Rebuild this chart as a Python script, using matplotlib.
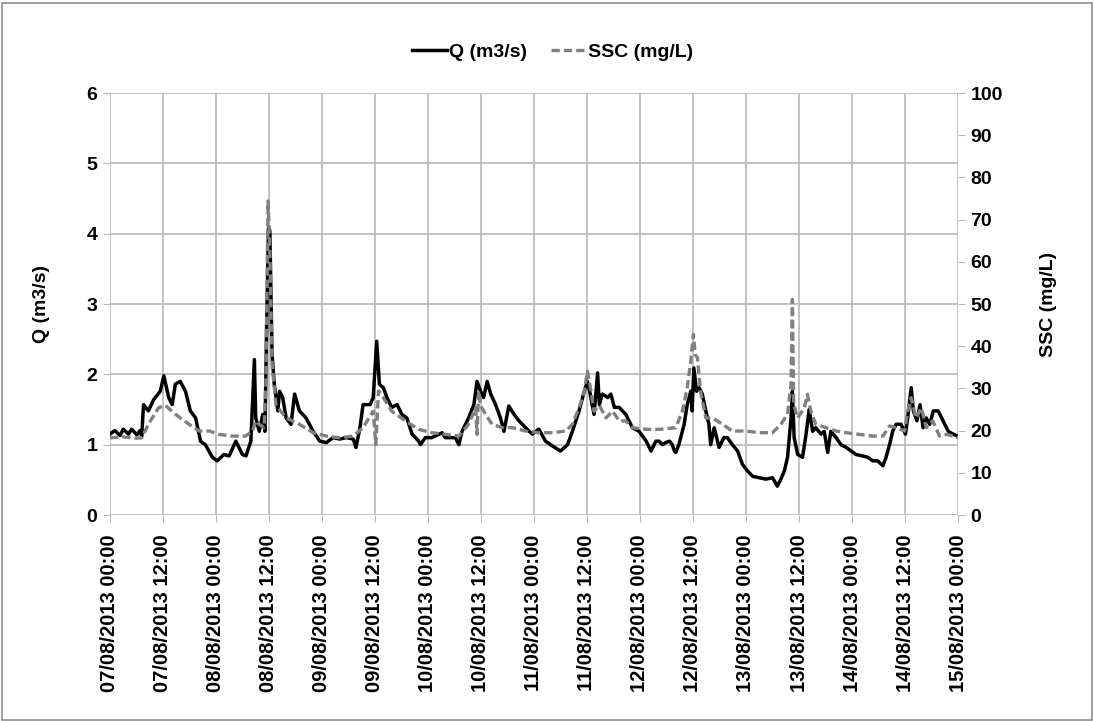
import matplotlib
matplotlib.use("Agg")
import matplotlib.pyplot as plt
import matplotlib.dates as mdates
import matplotlib.patches as patches
import pandas as pd

plt.rcParams['font.family'] = ['Liberation Sans', 'DejaVu Sans']
plt.rcParams['font.weight'] = 'bold'

START = pd.Timestamp("2013-08-07 00:00")
END = pd.Timestamp("2013-08-15 00:00")

# hours since 07/08/2013 00:00 and discharge (m3/s)
q_hours = [0.0, 1.1, 2.3, 3.0, 4.2, 4.9, 6.1, 6.8, 7.2, 7.6, 8.7, 9.9, 11.4, 12.2,
           13.3, 14.1, 14.8, 15.9, 17.1, 18.2, 19.4, 20.5, 21.6, 23.2, 24.3, 25.8,
           27.0, 28.5, 30.0, 30.8, 31.9, 32.7, 33.0, 33.8, 34.6, 35.1, 35.5, 35.9,
           36.2, 36.7, 37.2, 38.0, 38.4, 39.1, 39.9, 41.0, 41.8, 42.9, 44.4, 46.0,
           47.5, 49.0, 50.5, 52.0, 53.5, 55.1, 55.7, 56.6, 57.3, 58.9, 59.6, 60.4,
           61.0, 61.9, 62.7, 63.8, 65.0, 66.1, 67.2, 68.4, 69.9, 70.3, 71.4, 72.9,
           75.2, 75.9, 78.2, 79.0, 79.7, 81.2, 82.4, 83.1, 83.9, 84.6, 85.4, 86.2,
           87.3, 88.4, 89.2, 90.3, 91.5, 92.6, 94.1, 95.6, 97.1, 98.6, 100.2, 102.0,
           103.6, 104.7, 106.2, 107.4, 108.1, 108.6, 109.6, 110.4, 110.8, 111.5,
           112.7, 113.4, 114.2, 115.3, 116.8, 118.3, 119.8, 121.4, 122.5, 123.6,
           124.3, 125.1, 125.8, 126.7, 127.3, 127.8, 128.1, 128.8, 130.0, 130.7,
           131.5, 131.8, 132.2, 132.8, 133.4, 134.1, 134.9, 135.6, 136.0, 136.8,
           137.9, 139.0, 139.8, 140.9, 142.1, 143.2, 144.3, 145.5, 147.0, 148.5,
           150.0, 151.1, 151.9, 152.7, 153.4, 154.2, 154.5, 154.9, 155.7, 156.8,
           157.6, 158.3, 159.1, 159.8, 161.0, 161.7, 162.5, 163.2, 164.4, 165.5,
           166.7, 167.8, 168.9, 170.4, 171.6, 172.7, 173.8, 175.0, 175.7, 176.5,
           177.2, 178.0, 179.1, 180.1, 180.6, 181.4, 181.9, 182.7, 183.4, 184.1,
           184.8, 185.6, 186.4, 187.5, 188.6, 189.8, 190.9, 192.0]
q_values = [1.15, 1.20, 1.13, 1.22, 1.15, 1.22, 1.14, 1.20, 1.12, 1.57, 1.48, 1.64,
            1.76, 1.98, 1.67, 1.57, 1.86, 1.90, 1.76, 1.48, 1.38, 1.05, 1.00, 0.82,
            0.77, 0.86, 0.84, 1.05, 0.86, 0.84, 1.05, 2.21, 1.38, 1.19, 1.43, 1.19,
            2.80, 4.08, 4.04, 2.28, 1.86, 1.48, 1.76, 1.67, 1.38, 1.29, 1.72, 1.48,
            1.38, 1.19, 1.05, 1.03, 1.10, 1.08, 1.10, 1.08, 0.96, 1.24, 1.57, 1.57,
            1.67, 2.47, 1.86, 1.81, 1.67, 1.53, 1.57, 1.43, 1.38, 1.15, 1.05, 1.00,
            1.10, 1.10, 1.17, 1.10, 1.10, 1.00, 1.19, 1.38, 1.57, 1.90, 1.76, 1.67,
            1.90, 1.72, 1.57, 1.38, 1.19, 1.55, 1.43, 1.34, 1.24, 1.15, 1.22, 1.05,
            0.98, 0.91, 1.00, 1.19, 1.48, 1.76, 1.90, 1.76, 1.43, 2.02, 1.57, 1.72,
            1.67, 1.72, 1.53, 1.53, 1.43, 1.24, 1.19, 1.05, 0.91, 1.05,
            1.05, 1.00, 1.03, 1.05, 1.00, 0.91, 0.89, 1.00, 1.29, 1.57,
            1.76, 1.48, 2.09, 1.76, 1.81, 1.72, 1.48, 1.29, 1.00, 1.24,
            0.96, 1.10, 1.10, 1.00, 0.91, 0.72, 0.63, 0.55, 0.53, 0.51,
            0.53, 0.41, 0.51, 0.63, 0.82, 1.38, 1.76, 1.10, 0.86, 0.82,
            1.15, 1.50, 1.19, 1.24, 1.15, 1.19, 0.89, 1.19, 1.10, 1.00,
            0.96, 0.91, 0.86, 0.84, 0.82, 0.77, 0.77, 0.70, 0.82, 1.00,
            1.19, 1.29, 1.29, 1.15, 1.38, 1.81, 1.48, 1.34, 1.57, 1.24,
            1.38, 1.29, 1.48, 1.48, 1.34, 1.19, 1.15, 1.12]

# hours since 07/08/2013 00:00 and suspended sediment concentration (mg/L)
ssc_hours = [0.0, 3.0, 6.0, 7.2, 8.7, 11.0, 12.5, 14.8, 17.9, 20.2, 22.5, 24.7, 27.7,
             30.7, 32.3, 33.0, 33.8, 34.9, 35.3, 35.8, 36.2, 36.7, 37.6, 39.9, 42.9,
             46.0, 49.0, 52.0, 55.1, 57.3, 59.6, 60.2, 60.8, 61.9, 63.8, 66.9, 69.9,
             72.9, 75.9, 79.0, 81.2, 82.8, 83.1, 83.5, 83.9, 85.0, 86.5, 88.8, 91.1,
             94.1, 97.1, 100.2, 103.2, 104.7, 106.2, 107.4, 108.1, 108.9, 109.6,
             110.8, 112.3, 113.8, 115.3, 116.8, 118.3, 121.4, 124.4, 128.1, 129.6,
             130.7, 131.5, 132.1, 132.5, 133.0, 133.7, 134.9, 136.4, 138.7, 140.9,
             144.0, 147.0, 150.0, 151.9, 153.4, 154.2, 154.5, 154.8, 155.7, 157.2,
             157.9, 158.7, 159.8, 162.1, 164.4, 166.7, 169.7, 172.7, 175.0, 176.5,
             178.0, 179.9, 180.6, 181.4, 182.5, 183.7, 184.8, 186.3, 187.8, 189.4,
             190.9, 192.0]
ssc_values = [18.3, 18.5, 18.2, 18.3, 21.5, 25.4, 26.0, 23.9, 21.5, 19.9, 19.9, 19.1,
              18.7, 18.7, 19.9, 22.3, 21.5, 20.7, 31.0, 74.4, 62.6, 35.7, 26.0, 23.0,
              21.5, 19.5, 18.7, 18.3, 18.7, 20.7, 24.6, 16.7, 29.4, 27.8, 24.6, 22.3,
              20.3, 19.5, 19.1, 18.7, 21.5, 25.4, 19.1, 29.4, 26.0, 23.9, 21.5, 20.7,
              20.7, 19.9, 19.5, 19.5, 19.9, 21.5, 25.4, 29.4, 34.1, 29.4, 24.6,
              26.0, 23.0, 24.6, 22.3, 22.3, 20.7, 20.3, 20.3, 20.7, 24.6,
              30.2, 36.5, 42.8, 38.0, 37.3, 29.4, 23.0, 23.0, 21.5, 19.9,
              19.9, 19.5, 19.5, 21.5, 23.9, 31.0, 51.1, 26.2, 23.0, 25.4,
              28.6, 24.6, 21.5, 20.7, 19.9, 19.5, 19.1, 18.7, 18.7, 21.1,
              20.7, 19.9, 24.6, 27.8, 23.0, 25.4, 20.7, 22.3, 18.7, 19.1,
              18.7, 18.3]

q_times = START + pd.to_timedelta(q_hours, unit="h")
ssc_times = START + pd.to_timedelta(ssc_hours, unit="h")

fig = plt.figure(figsize=(10.94, 7.21), dpi=100)
ax = fig.add_axes([0.1005, 0.2857, 0.7752, 0.5853])
ax2 = ax.twinx()

ln1, = ax.plot(q_times, q_values, color='black', linewidth=2.5, label='Q (m3/s)')
ln2, = ax2.plot(ssc_times, ssc_values, color='#808080', linewidth=2.4,
                linestyle=(0, (2.5, 1.2)), label='SSC (mg/L)')

ax.set_xlim(START, END)
ax.set_ylim(0, 6)
ax2.set_ylim(0, 100)
ax.set_yticks(range(0, 7))
ax2.set_yticks(range(0, 101, 10))

ax.xaxis.set_major_locator(mdates.HourLocator(byhour=[0, 12]))
ax.xaxis.set_major_formatter(mdates.DateFormatter('%d/%m/%Y %H:%M'))
plt.setp(ax.get_xticklabels(), rotation=90, fontsize=14.5, fontweight='bold')

ax.grid(True, color='#b8b8b8', linewidth=1.2)
ax.set_axisbelow(True)
for a in (ax, ax2):
    for s in a.spines.values():
        s.set_visible(False)
ax.tick_params(axis='both', length=5, color='#b8b8b8', labelsize=14, pad=4)
ax.tick_params(axis='x', labelsize=14.5, pad=9)
ax2.tick_params(axis='y', length=5, color='#b8b8b8', labelsize=14, pad=4)

ax.set_ylabel('Q (m3/s)', fontsize=14, fontweight='bold', labelpad=26)
ax2.set_ylabel('SSC (mg/L)', fontsize=14, fontweight='bold', labelpad=27)

fig.legend(handles=[ln1, ln2], loc='center', bbox_to_anchor=(0.505, 0.928),
           ncol=2, frameon=False, fontsize=14, handlelength=1.8,
           handletextpad=0.1, columnspacing=1.2)

# thin frame around the whole chart
fig.patches.append(patches.Rectangle((0.002, 0.002), 0.996, 0.994, transform=fig.transFigure,
                                     fill=False, edgecolor='#8c8c8c', linewidth=1.2))

fig.savefig('out.png', dpi=100)
